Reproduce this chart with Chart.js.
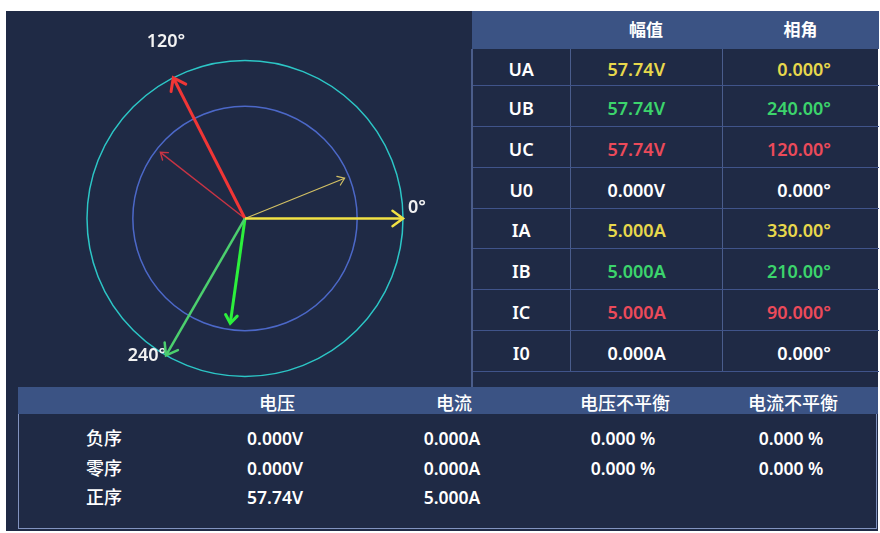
<!DOCTYPE html>
<html>
<head>
<meta charset="utf-8">
<script src="https://cdn.jsdelivr.net/npm/chart.js@4/dist/chart.umd.min.js"></script>
<style>
  body { margin: 0; background: #fff; width: 880px; height: 533px; overflow: hidden;
         font-family: "Noto Sans", "Noto Sans CJK SC", sans-serif; color: #fff; }
  #panel { position: absolute; left: 6px; top: 11px; width: 872px; height: 520px; background: #1f2a45; }
  #chartBox { position: absolute; left: 6px; top: 11px; width: 464px; height: 376px; }
  #phaseTable { position: absolute; left: 471px; top: 11px; width: 407px; border-collapse: collapse;
                table-layout: fixed; font-size: 18px; font-weight: 600; }
  #phaseTable th { background: #3b5384; height: 38px; font-size: 17px; font-weight: 600; padding: 0;
                   font-family: "Noto Sans CJK SC", sans-serif; }
  #phaseTable td { border-bottom: 1px solid #40548a; padding: 0; text-align: center; }
  #phaseTable td + td { border-left: 1px solid #4a5d8c; }
  #phaseTable td.mag { text-align: left; padding-left: 37px; }
  #phaseTable td.ang { text-align: right; padding-right: 48px; }
  #phaseTable tr td:first-child { border-left: 2px solid #4b5d8a; }
  #phaseTable span { position: relative; top: 2px; }
  #phaseTable th span { top: -2px; }
  #tableEdge { position: absolute; left: 471px; top: 371px; width: 2px; height: 16px; background: #4b5d8a; }
  #seqHead { position: absolute; left: 18px; top: 387px; width: 860px; height: 27px; background: #3b5384; }
  #seqBox { position: absolute; left: 18px; top: 414px; width: 857px; height: 114px; border: 1px solid #8193bf; border-top: none; }
  .cell { position: absolute; transform: translate(-50%, -50%); white-space: nowrap; font-size: 17.5px; font-weight: 600; }
  .cjk { font-family: "Noto Sans CJK SC", sans-serif; font-size: 18px; font-weight: 500; }
  .yel { color: #e8d84c; }
  .grn { color: #3cd46c; }
  .red { color: #ec4a5a; }
</style>
</head>
<body>
<div id="panel"></div>
<div id="chartBox"><canvas id="phasor" width="464" height="376"></canvas></div>
<table id="phaseTable">
  <colgroup><col style="width:98px"><col style="width:152px"><col style="width:157px"></colgroup>
  <thead><tr><th></th><th><span>幅值</span></th><th><span>相角</span></th></tr></thead>
  <tbody id="phaseBody"></tbody>
</table>
<div id="tableEdge"></div>
<div id="seqHead"></div>
<div id="seqBox"></div>
<div id="seqCells"></div>
<script>
// phase table
const phaseNames = ["UA", "UB", "UC", "U0", "IA", "IB", "IC", "I0"];
const phaseMag = [57.74, 57.74, 57.74, 0, 5, 5, 5, 0];
const phaseUnit = ["V", "V", "V", "V", "A", "A", "A", "A"];
const phaseAngle = [0, 240, 120, 0, 330, 210, 90, 0];
const phaseColor = ["yel", "grn", "red", "", "yel", "grn", "red", ""];

// sequence table
const seqHeaders = ["电压", "电流", "电压不平衡", "电流不平衡"];
const seqNames = ["负序", "零序", "正序"];
const seqVoltage = [0, 0, 57.74];
const seqCurrent = [0, 0, 5];
const seqVoltUnbal = [0, 0, null];
const seqCurrUnbal = [0, 0, null];

// phasors as drawn (angle in degrees, length relative to outer ring)
const voltAngles = [0, 240, 117];
const voltLengths = [1, 1, 1];
const currAngles = [22, 262, 142];
const currLengths = [0.68, 0.67, 0.68];
const ringRadii = [1, 0.71];
const axisLabels = ["0°", "120°", "240°"];

function fmt(v, digits) {
  if (v === 0) return "0.000";
  return v.toPrecision(digits);
}

const rowHeights = [36, 41, 41, 41, 40, 41, 41, 41];
const body = document.getElementById("phaseBody");
phaseNames.forEach((n, i) => {
  const tr = document.createElement("tr");
  tr.style.height = rowHeights[i] + "px";
  const c = phaseColor[i];
  tr.innerHTML = `<td><span>${n}</span></td><td class="mag ${c}"><span>${fmt(phaseMag[i], 4)}${phaseUnit[i]}</span></td>` +
                 `<td class="ang ${c}"><span>${fmt(phaseAngle[i], 5)}°</span></td>`;
  body.appendChild(tr);
});

const colX = [104, 277, 454, 625, 793];
const rowY = [438, 468, 497];
let html = "";
seqHeaders.forEach((h, i) => {
  html += `<div class="cell cjk" style="left:${colX[i + 1]}px;top:402px">${h}</div>`;
});
seqNames.forEach((n, r) => {
  const vals = [
    fmt(seqVoltage[r], 4) + "V",
    fmt(seqCurrent[r], 4) + "A",
    seqVoltUnbal[r] === null ? "" : fmt(seqVoltUnbal[r], 4) + " %",
    seqCurrUnbal[r] === null ? "" : fmt(seqCurrUnbal[r], 4) + " %"
  ];
  html += `<div class="cell cjk" style="left:${colX[0]}px;top:${rowY[r] - 1}px">${n}</div>`;
  vals.forEach((v, i) => {
    html += `<div class="cell" style="left:${colX[i + 1] - 2}px;top:${rowY[r]}px">${v}</div>`;
  });
});
document.getElementById("seqCells").innerHTML = html;

// phasor diagram
const rad = d => d * Math.PI / 180;
function vec(angle, len) {
  return [{ x: 0, y: 0 }, { x: len * Math.cos(rad(angle)), y: len * Math.sin(rad(angle)) }];
}

const styles = [
  { color: "#f2e244", width: 2.5, head: 13 },
  { color: "#4ccf6e", width: 2.5, head: 13 },
  { color: "#f03636", width: 3, head: 14 },
  { color: "#d2c064", width: 1.2, head: 8 },
  { color: "#2cf03c", width: 3, head: 10 },
  { color: "#c83444", width: 1.4, head: 8 }
];
const vectors = [
  ...voltAngles.map((a, i) => vec(a, voltLengths[i])),
  ...currAngles.map((a, i) => vec(a, currLengths[i]))
];

const ringPlugin = {
  id: "rings",
  beforeDatasetsDraw(chart) {
    const ctx = chart.ctx;
    const xs = chart.scales.x, ys = chart.scales.y;
    const cx = xs.getPixelForValue(0), cy = ys.getPixelForValue(0);
    const colors = ["#2cc6c6", "#4c68c8"];
    ctx.save();
    ringRadii.forEach((r, i) => {
      const pr = xs.getPixelForValue(r) - cx;
      ctx.beginPath();
      ctx.arc(cx, cy, pr, 0, Math.PI * 2);
      ctx.strokeStyle = colors[i];
      ctx.lineWidth = 1.5;
      ctx.stroke();
    });
    ctx.fillStyle = "#f2f2f2";
    ctx.font = "600 18px 'Noto Sans', sans-serif";
    ctx.textBaseline = "middle";
    ctx.textAlign = "left";
    ctx.fillText(axisLabels[0], cx + 163, cy - 11);
    ctx.textAlign = "center";
    ctx.fillText(axisLabels[1], cx - 79, cy - 177);
    ctx.fillText(axisLabels[2], cx - 98, cy + 137);
    ctx.restore();
  },
  afterDatasetsDraw(chart) {
    const ctx = chart.ctx;
    chart.data.datasets.forEach((ds, i) => {
      const pts = chart.getDatasetMeta(i).data;
      const p0 = pts[0], p1 = pts[1];
      const ang = Math.atan2(p1.y - p0.y, p1.x - p0.x);
      const h = styles[i].head, spread = rad(36);
      ctx.save();
      ctx.strokeStyle = ds.borderColor;
      ctx.lineWidth = ds.borderWidth;
      ctx.lineCap = "round";
      ctx.beginPath();
      ctx.moveTo(p1.x - h * Math.cos(ang - spread), p1.y - h * Math.sin(ang - spread));
      ctx.lineTo(p1.x, p1.y);
      ctx.lineTo(p1.x - h * Math.cos(ang + spread), p1.y - h * Math.sin(ang + spread));
      ctx.stroke();
      ctx.restore();
    });
  }
};

new Chart(document.getElementById("phasor"), {
  type: "scatter",
  data: {
    datasets: vectors.map((v, i) => ({
      data: v,
      showLine: true,
      borderColor: styles[i].color,
      borderWidth: styles[i].width,
      pointRadius: 0,
      clip: false
    }))
  },
  options: {
    responsive: false,
    animation: false,
    events: [],
    layout: { padding: 0, autoPadding: false },
    plugins: { legend: { display: false }, tooltip: { enabled: false } },
    scales: {
      x: { type: "linear", min: -1.5127, max: 1.4241, display: false },
      y: { type: "linear", min: -1.0665, max: 1.3133, display: false }
    }
  },
  plugins: [ringPlugin]
});
</script>
</body>
</html>
